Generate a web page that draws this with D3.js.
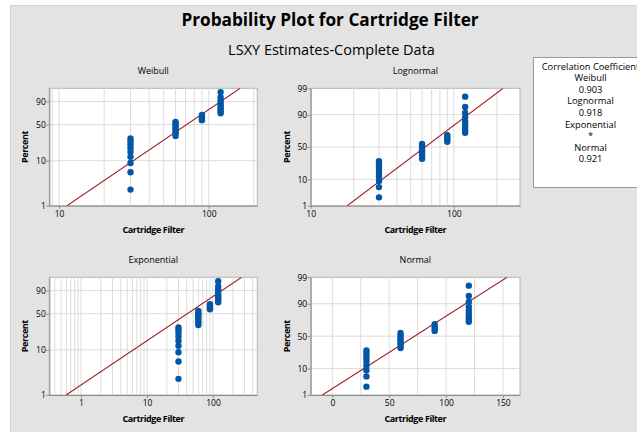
<!DOCTYPE html>
<html>
<head>
<meta charset="utf-8">
<script src="https://cdn.jsdelivr.net/npm/d3@7"></script>
<style>
  body { margin: 0; background: #fff; }
  text { font-family: "Open Sans", "Noto Sans", sans-serif; fill: #000; }
</style>
</head>
<body>
<script>
// data: 30 lifetimes and their plotted percents (median ranks)
const filterValues = [30, 30, 30, 30, 30, 30, 30, 30, 30,
                      60, 60, 60, 60, 60, 60, 60, 60,
                      90, 90, 90, 90,
                      120, 120, 120, 120, 120, 120, 120, 120, 120];
const percentValues = [2.30, 5.59, 8.88, 12.17, 15.46, 18.75, 22.04, 25.33, 28.62,
                       31.91, 35.20, 38.49, 41.78, 45.07, 48.36, 51.64, 54.93,
                       58.22, 61.51, 64.80, 68.09,
                       71.38, 74.67, 77.96, 81.25, 84.54, 87.83, 91.12, 94.41, 97.70];

const distNames = ["Weibull", "Lognormal", "Exponential", "Normal"];
const corrValues = ["0.903", "0.918", "*", "0.921"];

// fitted parameters (estimated from the drawn lines)
const weibullFit = { shape: 2.30, scale: 83.4 };
const lognormalFit = { loc: 4.1436, scale: 0.539 };
const exponentialFit = { mean: 59 };
const normalFit = { mean: 72.4, sd: 34.9 };

const yTicksWeibull = [1, 10, 50, 90];
const yTicksNormal = [1, 10, 50, 90, 99];
const xTicksWeibull = [10, 100];
const xTicksLognormal = [10, 100];
const xTicksExponential = [1, 10, 100];
const xTicksNormal = [0, 50, 100, 150];

const width = 637, height = 432;

const svg = d3.select("body").append("svg")
  .attr("width", width)
  .attr("height", height);

svg.append("rect")
  .attr("x", 10).attr("y", 5)
  .attr("width", width - 10).attr("height", height - 5)
  .attr("fill", "#e3e3e3");
svg.append("path")
  .attr("d", `M10.5,${height}V5.5H${width}`)
  .attr("fill", "none")
  .attr("stroke", "#d2d2d2");

svg.append("text")
  .attr("x", 330).attr("y", 26)
  .attr("text-anchor", "middle")
  .style("font-size", "17.2px")
  .style("font-weight", "bold")
  .text("Probability Plot for Cartridge Filter");

svg.append("text")
  .attr("x", 331.5).attr("y", 55)
  .attr("text-anchor", "middle")
  .style("font-size", "14.5px")
  .text("LSXY Estimates-Complete Data");

// inverse standard normal (Acklam)
function normInv(p) {
  const a = [-3.969683028665376e+01, 2.209460984245205e+02, -2.759285104469687e+02, 1.383577518672690e+02, -3.066479806614716e+01, 2.506628277459239e+00];
  const b = [-5.447609879822406e+01, 1.615858368580409e+02, -1.556989798598866e+02, 6.680131188771972e+01, -1.328068155288572e+01];
  const c = [-7.784894002430293e-03, -3.223964580411365e-01, -2.400758277161838e+00, -2.549732539343734e+00, 4.374664141464968e+00, 2.938163982698783e+00];
  const d = [7.784695709041462e-03, 3.224671290700398e-01, 2.445134137142996e+00, 3.754408661907416e+00];
  const pl = 0.02425;
  let q, r;
  if (p < pl) {
    q = Math.sqrt(-2 * Math.log(p));
    return (((((c[0]*q+c[1])*q+c[2])*q+c[3])*q+c[4])*q+c[5]) / ((((d[0]*q+d[1])*q+d[2])*q+d[3])*q+1);
  }
  if (p > 1 - pl) {
    q = Math.sqrt(-2 * Math.log(1 - p));
    return -(((((c[0]*q+c[1])*q+c[2])*q+c[3])*q+c[4])*q+c[5]) / ((((d[0]*q+d[1])*q+d[2])*q+d[3])*q+1);
  }
  q = p - 0.5; r = q * q;
  return (((((a[0]*r+a[1])*r+a[2])*r+a[3])*r+a[4])*r+a[5])*q / (((((b[0]*r+b[1])*r+b[2])*r+b[3])*r+b[4])*r+1);
}
const weibullT = p => Math.log(-Math.log(1 - p / 100));
const normalT = p => normInv(p / 100);

// minor grid values for log axes
function logGrid(lo, hi) {
  const out = [];
  for (let e = -1; e <= 3; e++) {
    for (let m = 1; m < 10; m++) {
      const v = m * Math.pow(10, e);
      if (v > lo && v < hi) out.push(v);
    }
  }
  return out;
}

const panels = [
  { name: distNames[0], x0: 49.3, y0: 88.3, x1: 257.3, y1: 205.7,
    xType: "log", xDomain: [8.6, 211], xTicks: xTicksWeibull, xGrid: logGrid(8.6, 211),
    yT: weibullT, yTicks: yTicksWeibull,
    quant: p => weibullFit.scale * Math.pow(-Math.log(1 - p / 100), 1 / weibullFit.shape) },
  { name: distNames[1], x0: 310.7, y0: 88.3, x1: 520, y1: 205.7,
    xType: "log", xDomain: [10, 290], xTicks: xTicksLognormal, xGrid: logGrid(10, 290),
    yT: normalT, yTicks: yTicksNormal,
    quant: p => Math.exp(lognormalFit.loc + lognormalFit.scale * normInv(p / 100)) },
  { name: distNames[2], x0: 49.3, y0: 277.3, x1: 257.3, y1: 395,
    xType: "log", xDomain: [0.33, 470], xTicks: xTicksExponential, xGrid: logGrid(0.33, 470),
    yT: weibullT, yTicks: yTicksWeibull,
    quant: p => -exponentialFit.mean * Math.log(1 - p / 100) },
  { name: distNames[3], x0: 310.7, y0: 277.3, x1: 520, y1: 395,
    xType: "linear", xDomain: [-19, 165], xTicks: xTicksNormal, xGrid: d3.range(0, 151, 25),
    yT: normalT, yTicks: yTicksNormal,
    quant: p => normalFit.mean + normalFit.sd * normInv(p / 100) }
];

panels.forEach((pn, idx) => {
  const w = pn.x1 - pn.x0, h = pn.y1 - pn.y0;
  const x = (pn.xType === "log" ? d3.scaleLog() : d3.scaleLinear())
    .domain(pn.xDomain).range([0, w]);
  const yLin = d3.scaleLinear().domain([pn.yT(1), pn.yT(99)]).range([h, 0]);
  const y = p => yLin(pn.yT(p));

  const g = svg.append("g").attr("transform", `translate(${pn.x0},${pn.y0})`);

  g.append("rect").attr("width", w).attr("height", h)
    .attr("fill", "#fff").attr("stroke", "#b4b4b4");

  g.append("clipPath").attr("id", "clip" + idx)
    .append("rect").attr("width", w).attr("height", h);

  g.selectAll(".vgrid").data(pn.xGrid).enter().append("line")
    .attr("x1", d => x(d)).attr("x2", d => x(d))
    .attr("y1", 0).attr("y2", h)
    .attr("stroke", "#dcdcdc");
  g.selectAll(".hgrid").data(pn.yTicks.filter(d => d > 1 && d < 99)).enter().append("line")
    .attr("x1", 0).attr("x2", w)
    .attr("y1", d => y(d)).attr("y2", d => y(d))
    .attr("stroke", "#dcdcdc");

  // axes
  const yAxis = g.append("g")
    .call(d3.axisLeft(yLin).tickValues(pn.yTicks.map(pn.yT)).tickFormat((d, i) => pn.yTicks[i]).tickSize(3).tickSizeOuter(0));
  const xAxis = g.append("g").attr("transform", `translate(0,${h})`)
    .call(d3.axisBottom(x).tickValues(pn.xTicks).tickFormat(d3.format("d")).tickSize(3).tickSizeOuter(0));
  [xAxis, yAxis].forEach(a => {
    a.select(".domain").attr("stroke", "#8c8c8c");
    a.selectAll(".tick line").attr("stroke", "#8c8c8c");
    a.selectAll(".tick text").style("font-size", "8.5px").attr("fill", "#000");
  });
  yAxis.selectAll(".tick text").attr("x", -3.5).attr("dy", "0.34em");
  xAxis.selectAll(".tick text").attr("y", 5);

  // fitted line between the 1st and 99th percentile
  const fitLine = d3.line().x(p => x(pn.quant(p))).y(p => y(p));
  g.append("path")
    .datum([1, 99])
    .attr("clip-path", `url(#clip${idx})`)
    .attr("d", fitLine)
    .attr("fill", "none")
    .attr("stroke", "#a01e1e")
    .attr("stroke-width", 1.1);

  g.selectAll("circle").data(filterValues).enter().append("circle")
    .attr("cx", d => x(d))
    .attr("cy", (d, i) => y(percentValues[i]))
    .attr("r", 3.2)
    .attr("fill", "#0256a6");

  g.append("text")
    .attr("x", w / 2).attr("y", -14.5)
    .attr("text-anchor", "middle")
    .style("font-size", "9px")
    .text(pn.name);

  g.append("text")
    .attr("x", w / 2).attr("y", h + 27)
    .attr("text-anchor", "middle")
    .style("font-size", "9px")
    .style("font-weight", "bold")
    .style("letter-spacing", "-0.4px")
    .text("Cartridge Filter");

  g.append("text")
    .attr("transform", `translate(${-21},${h / 2}) rotate(-90)`)
    .attr("text-anchor", "middle")
    .style("font-size", "9px")
    .style("font-weight", "bold")
    .style("letter-spacing", "-0.4px")
    .text("Percent");
});

// correlation box
const legend = svg.append("g");
legend.append("rect")
  .attr("x", 533.5).attr("y", 57.5)
  .attr("width", 120).attr("height", 130)
  .attr("fill", "#fff").attr("stroke", "#9a9a9a");
const legendLines = ["Correlation Coefficient"];
distNames.forEach((n, i) => { legendLines.push(n); legendLines.push(corrValues[i]); });
legend.selectAll("text").data(legendLines).enter().append("text")
  .attr("x", 590.5)
  .attr("y", (d, i) => 69.5 + i * 11.6)
  .attr("text-anchor", "middle")
  .style("font-size", "9.3px")
  .text(d => d);
</script>
</body>
</html>
